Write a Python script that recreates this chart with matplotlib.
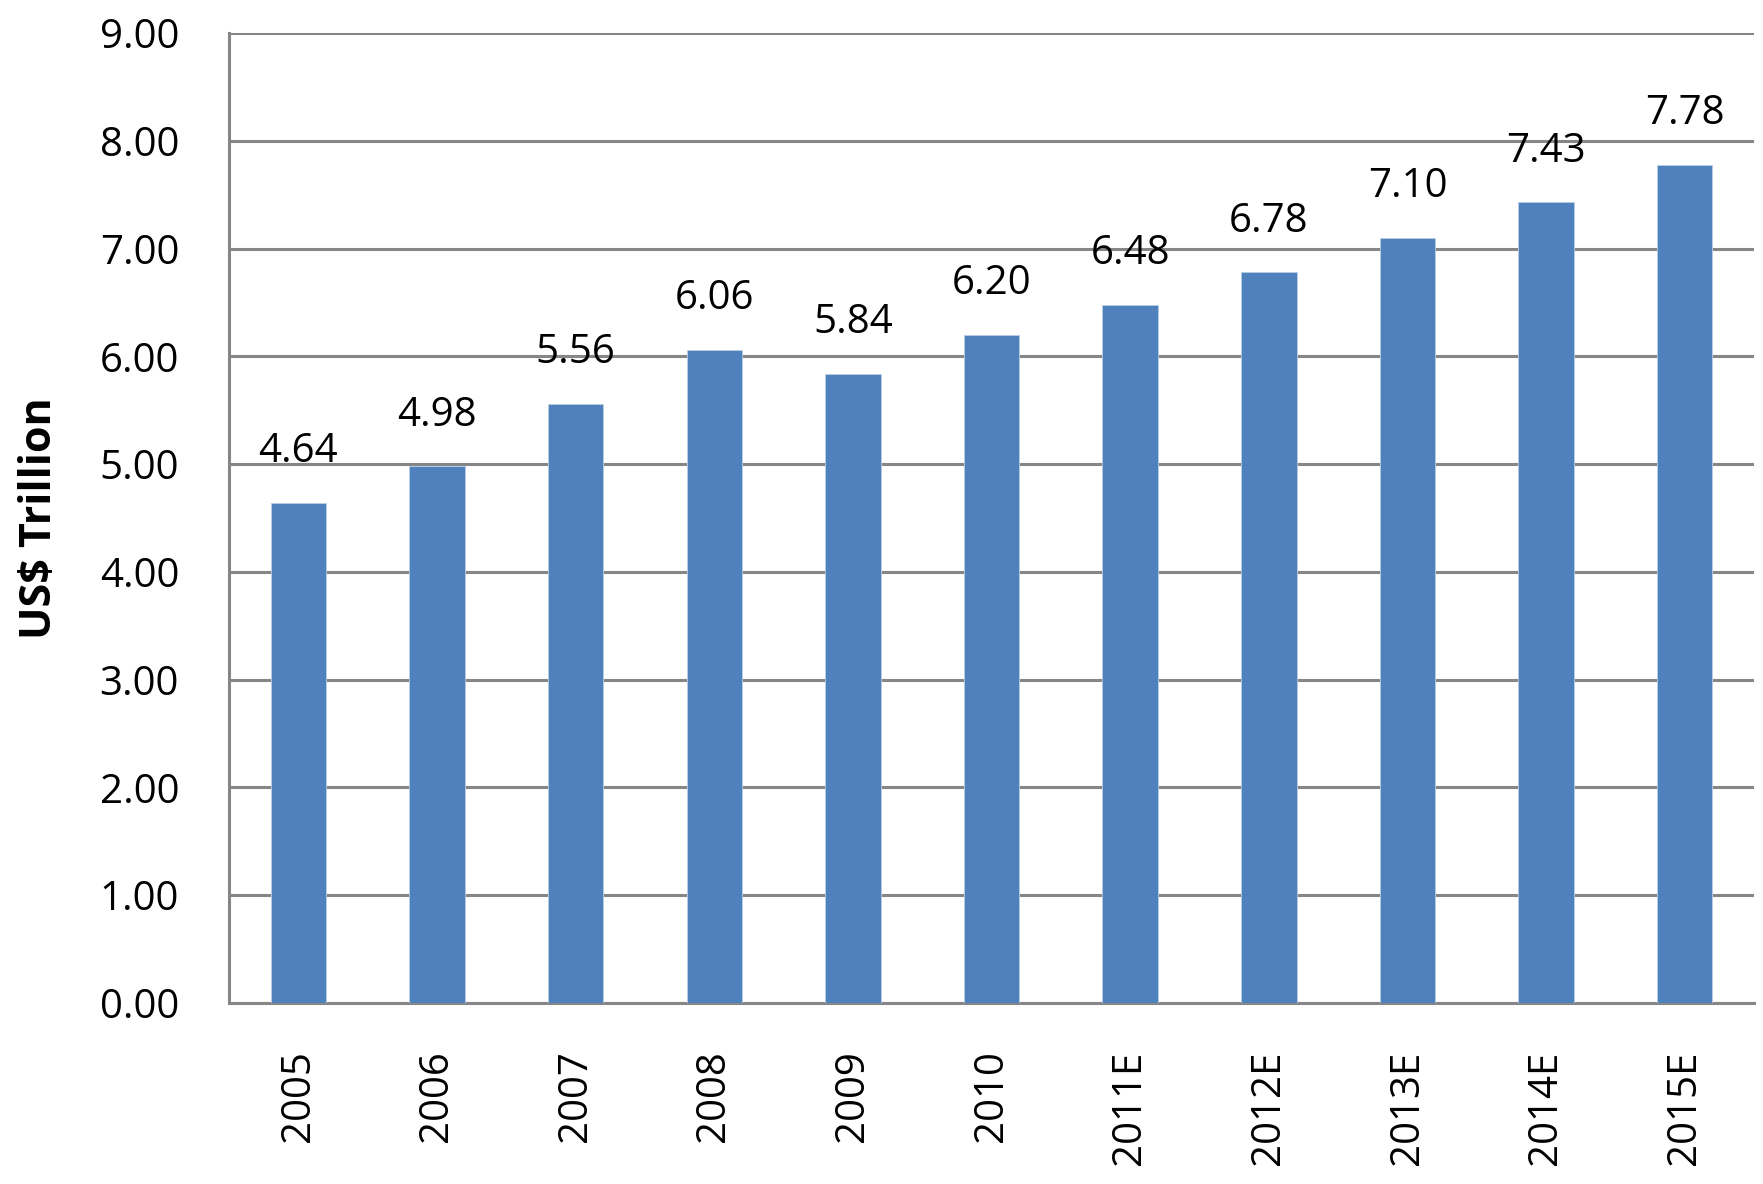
import matplotlib
matplotlib.use("Agg")
import matplotlib.pyplot as plt

categories = ["2005", "2006", "2007", "2008", "2009", "2010",
              "2011E", "2012E", "2013E", "2014E", "2015E"]
values = [4.64, 4.98, 5.56, 6.06, 5.84, 6.20, 6.48, 6.78, 7.10, 7.43, 7.78]
yticks = [0, 1, 2, 3, 4, 5, 6, 7, 8, 9]

plt.rcParams['font.family'] = ['Open Sans', 'DejaVu Sans']

fig = plt.figure(figsize=(17.63, 11.84), dpi=100)
ax = fig.add_axes([0.1299, 0.1529, 0.9949 - 0.1299, 0.9721 - 0.1529])

x = list(range(len(categories)))
bars = ax.bar(x, values, width=0.40, color="#4F81BD", edgecolor="#B9CDE5",
              linewidth=0.6, zorder=3)

ax.set_xlim(-0.5, len(categories) - 0.5)
ax.set_ylim(0, 9)
ax.set_yticks(yticks)
ax.set_yticklabels([f"{v:.2f}" for v in yticks], fontsize=29)
ax.set_xticks(x)
ax.set_xticklabels(categories, rotation=90, fontsize=29)
ax.tick_params(axis='x', length=0, pad=34)
ax.tick_params(axis='y', length=0, pad=36)

ax.yaxis.grid(True, color="#868686", linewidth=2.2, zorder=0)
ax.set_axisbelow(True)
for s in ["top", "right"]:
    ax.spines[s].set_visible(False)
for s in ["left", "bottom"]:
    ax.spines[s].set_color("#868686")
    ax.spines[s].set_linewidth(2.2)

for xi, v in zip(x, values):
    ax.annotate(f"{v:.2f}", (xi, v), xytext=(0, 22), textcoords="offset points",
                ha="center", va="bottom", fontsize=29)

ax.set_ylabel("US$ Trillion", fontsize=31, fontweight="bold", labelpad=28)

fig.savefig("out.png", dpi=100, facecolor="white")
